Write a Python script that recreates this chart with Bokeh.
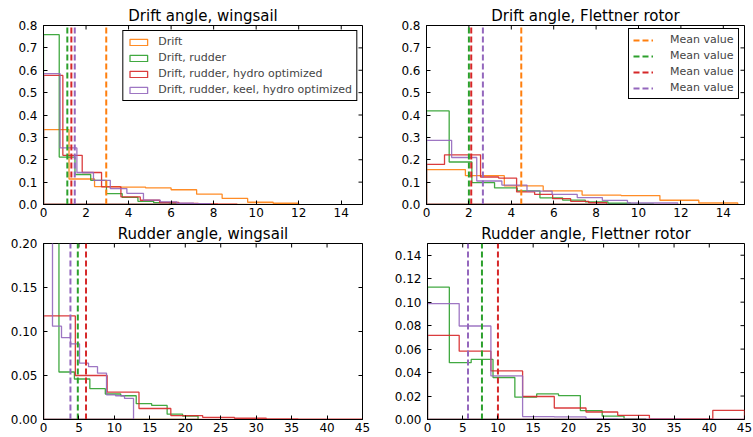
import math
from bokeh.plotting import figure
from bokeh.models import Legend, LegendItem, FixedTicker, Range1d
from bokeh.layouts import column, row
from bokeh.embed import file_html
from bokeh.resources import INLINE

ORANGE = "#ff7f0e"
GREEN = "#2ca02c"
RED = "#d62728"
PURPLE = "#9467bd"
FONT = "DejaVu Sans"

# ---------------- data ----------------
series_labels = ["Drift", "Drift, rudder", "Drift, rudder, hydro optimized",
                 "Drift, rudder, keel, hydro optimized"]
mean_label = "Mean value"

# Drift angle, wingsail
tl_orange_edges = [0, 1.2, 2.4, 3.6, 4.8, 6.0, 7.2, 8.4, 9.6, 10.8, 12.0]
tl_orange_dens = [0.335, 0.114, 0.080, 0.078, 0.074, 0.066, 0.046, 0.027, 0.010, 0.006]
tl_green_edges = [0, 0.74, 1.48, 2.22, 2.96, 3.70, 4.44, 5.18, 5.92, 6.66, 7.40]
tl_green_dens = [0.759, 0.212, 0.134, 0.108, 0.049, 0.032, 0.014, 0.008, 0.004, 0.002]
tl_red_edges = [0, 0.91, 1.82, 2.73, 3.64, 4.55, 5.46, 6.37, 7.28, 8.19, 9.10]
tl_red_dens = [0.577, 0.220, 0.143, 0.079, 0.034, 0.019, 0.009, 0.005, 0.003, 0.002]
tl_purple_edges = [0, 0.78, 1.57, 2.35, 3.14, 3.92, 4.70, 5.49, 6.27, 7.06, 7.84]
tl_purple_dens = [0.585, 0.253, 0.143, 0.108, 0.071, 0.050, 0.020, 0.012, 0.006, 0.004]
tl_means = [2.95, 1.12, 1.31, 1.47]

# Drift angle, Flettner rotor
tr_orange_edges = [0, 1.835, 3.67, 5.505, 7.34, 9.175, 11.01, 12.845, 14.68]
tr_orange_dens = [0.156, 0.129, 0.083, 0.061, 0.042, 0.040, 0.019, 0.007]
tr_green_edges = [0, 1.07, 2.14, 3.21, 4.28, 5.35, 6.42, 7.49, 8.56, 9.63, 10.70]
tr_green_dens = [0.418, 0.190, 0.098, 0.074, 0.061, 0.030, 0.020, 0.012, 0.006, 0.003]
tr_red_edges = [0, 0.85, 1.70, 2.55, 3.40, 4.25, 5.10, 5.95, 6.80, 7.65, 8.50]
tr_red_dens = [0.179, 0.222, 0.222, 0.123, 0.118, 0.056, 0.045, 0.026, 0.014, 0.008]
tr_purple_edges = [0, 1.185, 2.37, 3.555, 4.74, 5.925, 7.11, 8.295, 9.48, 10.665, 11.85]
tr_purple_dens = [0.287, 0.210, 0.105, 0.087, 0.060, 0.045, 0.031, 0.018, 0.007, 0.007]
tr_means = [4.47, 2.00, 2.11, 2.66]

# Rudder angle, wingsail
bl_green_edges = [0, 2.18, 4.36, 6.54, 8.72, 10.90, 13.08, 15.26, 17.44, 19.62, 21.80]
bl_green_dens = [0.224, 0.054, 0.046, 0.035, 0.029, 0.027, 0.018, 0.016, 0.006, 0.004]
bl_red_edges = [0, 4.49, 8.98, 13.47, 17.96, 22.45, 26.94, 31.43, 35.92, 40.41, 44.90]
bl_red_dens = [0.1177, 0.050, 0.031, 0.0125, 0.0045, 0.0025, 0.0015, 0.0008, 0.0003, 0.0003]
bl_purple_edges = [0, 1.27, 2.54, 3.81, 5.08, 6.35, 7.62, 8.89, 10.16, 11.43, 12.70]
bl_purple_dens = [0.249, 0.106, 0.093, 0.086, 0.064, 0.060, 0.0526, 0.028, 0.027, 0.024]
bl_means = [4.84, 6.00, 3.80]

# Rudder angle, Flettner rotor
br_green_edges = [0, 3.1, 6.2, 9.3, 12.4, 15.5, 18.6, 21.7, 24.8, 27.9, 31.0]
br_green_dens = [0.1128, 0.0484, 0.0512, 0.0358, 0.0190, 0.0218, 0.0204, 0.0075, 0.0028, 0.0005]
br_red_edges = [0, 4.5, 9.0, 13.5, 18.0, 22.5, 27.0, 31.5, 36.0, 40.5, 45.0]
br_red_dens = [0.0717, 0.0582, 0.0414, 0.0196, 0.0098, 0.0064, 0.0036, 0.0005, 0.0005, 0.0078]
br_purple_edges = [0, 4.5, 9.0, 13.5, 18.0, 22.5, 27.0, 31.5, 36.0, 40.5, 45.0]
br_purple_dens = [0.0988, 0.0797, 0.0371, 0.0025, 0.0022, 0.0006, 0.0004, 0.0002, 0.0001, 0.0001]
br_means = [7.73, 10.00, 5.75]

drift_xticks = [0, 2, 4, 6, 8, 10, 12, 14]
drift_xlabels = ["0", "2", "4", "6", "8", "10", "12", "14"]
drift_yticks = [0.0, 0.1, 0.2, 0.3, 0.4, 0.5, 0.6, 0.7, 0.8]
drift_ylabels = ["0.0", "0.1", "0.2", "0.3", "0.4", "0.5", "0.6", "0.7", "0.8"]
rudder_xticks = [0, 5, 10, 15, 20, 25, 30, 35, 40, 45]
rudder_xlabels = ["0", "5", "10", "15", "20", "25", "30", "35", "40", "45"]
bl_yticks = [0.0, 0.05, 0.10, 0.15, 0.20]
bl_ylabels = ["0.00", "0.05", "0.10", "0.15", "0.20"]
br_yticks = [0.0, 0.02, 0.04, 0.06, 0.08, 0.10, 0.12, 0.14]
br_ylabels = ["0.00", "0.02", "0.04", "0.06", "0.08", "0.10", "0.12", "0.14"]


def step_outline(edges, dens):
    xs = [edges[0]]
    ys = [0.0]
    for i, h in enumerate(dens):
        xs += [edges[i], edges[i + 1]]
        ys += [h, h]
    xs.append(edges[-1])
    ys.append(0.0)
    return xs, ys


def style_axis(ax, ticks, labels, standoff):
    ax.ticker = FixedTicker(ticks=ticks)
    ax.major_tick_in = 4
    ax.major_tick_out = 0
    ax.minor_tick_in = 0
    ax.minor_tick_out = 0
    ax.axis_line_color = "black"
    ax.major_tick_line_color = "black"
    ax.major_label_text_font = FONT
    ax.major_label_text_color = "black"
    ax.major_label_overrides = {t: l for t, l in zip(ticks, labels)}
    ax.major_label_text_font_size = "12px"
    ax.major_label_standoff = standoff


def make_fig(title, xmax, ymax, xt, xl, yt, yl, width, height, bl, br, bt, bb):
    p = figure(width=width, height=height, x_range=Range1d(0, xmax), y_range=Range1d(0, ymax),
               output_backend="svg", toolbar_location=None, title=title,
               min_border_left=bl, min_border_right=br, min_border_top=bt, min_border_bottom=bb)
    p.title.text_font = FONT
    p.title.text_font_size = "15px"
    p.title.text_font_style = "normal"
    p.title.text_color = "black"
    p.title.align = "center"
    p.title.standoff = 2
    p.xgrid.visible = False
    p.ygrid.visible = False
    p.outline_line_color = "black"
    p.outline_line_alpha = 1
    p.background_fill_color = "white"
    p.border_fill_color = "white"
    style_axis(p.xaxis[0], xt, xl, 3)
    style_axis(p.yaxis[0], yt, yl, 6)
    # inward tick marks on the right and top edges (half of each dash is clipped by the frame)
    p.scatter(x=[xmax] * len(yt), y=yt, marker="dash", size=8, line_color="black", line_width=1)
    p.scatter(x=xt, y=[ymax] * len(xt), marker="dash", angle=math.pi / 2, size=8,
              line_color="black", line_width=1)
    return p


def add_hists(p, hists, means, colors, ymax):
    hist_r = []
    for (edges, dens), c in zip(hists, colors):
        xs, ys = step_outline(edges, dens)
        hist_r.append(p.patch(xs, ys, fill_color=None, line_color=c, line_width=1.3, line_alpha=0.9))
    mean_r = []
    for m, c in zip(means, colors):
        mean_r.append(p.segment(x0=[m], y0=[0], x1=[m], y1=[ymax], line_color=c,
                                line_width=2, line_dash="6 3"))
    return hist_r, mean_r


def legend_style(**kw):
    base = dict(glyph_height=8, spacing=3, padding=4, label_height=12, margin=0,
                label_text_font=FONT, label_text_font_size="11px",
                border_line_color="black", border_line_width=1, border_line_alpha=1,
                background_fill_color="white", background_fill_alpha=1)
    base.update(kw)
    return base


TOP_H, BOT_H = 221, 216
LW, RW = 391, 362
FH = 179

# top-left
p1 = make_fig("Drift angle, wingsail", 15, 0.8, drift_xticks, drift_xlabels,
              drift_yticks, drift_ylabels, LW, TOP_H, 43, 29, 25, 17)
h1, _ = add_hists(p1, [(tl_orange_edges, tl_orange_dens), (tl_green_edges, tl_green_dens),
                       (tl_red_edges, tl_red_dens), (tl_purple_edges, tl_purple_dens)],
                  tl_means, [ORANGE, GREEN, RED, PURPLE], 0.8)
items = [LegendItem(label=lab, renderers=[r]) for lab, r in zip(series_labels, h1)]
p1.add_layout(Legend(items=items, location="top_right",
                     **legend_style(glyph_width=22, label_standoff=9, margin=5)))

# top-right
p2 = make_fig("Drift angle, Flettner rotor", 15, 0.8, drift_xticks, drift_xlabels,
              drift_yticks, drift_ylabels, RW, TOP_H, 35, 9, 25, 17)
_, m2 = add_hists(p2, [(tr_orange_edges, tr_orange_dens), (tr_green_edges, tr_green_dens),
                       (tr_red_edges, tr_red_dens), (tr_purple_edges, tr_purple_dens)],
                  tr_means, [ORANGE, GREEN, RED, PURPLE], 0.8)
items = [LegendItem(label=mean_label, renderers=[r]) for r in m2]
p2.add_layout(Legend(items=items, location=(202, FH - 6 - 68),
                     **legend_style(glyph_width=20, label_standoff=17)))

# bottom-left
p3 = make_fig("Rudder angle, wingsail", 45, 0.2, rudder_xticks, rudder_xlabels,
              bl_yticks, bl_ylabels, LW, BOT_H, 43, 29, 19, 18)
add_hists(p3, [(bl_green_edges, bl_green_dens), (bl_red_edges, bl_red_dens),
               (bl_purple_edges, bl_purple_dens)],
          bl_means, [GREEN, RED, PURPLE], 0.2)

# bottom-right
p4 = make_fig("Rudder angle, Flettner rotor", 45, 0.15, rudder_xticks, rudder_xlabels,
              br_yticks, br_ylabels, RW, BOT_H, 35, 9, 19, 18)
add_hists(p4, [(br_green_edges, br_green_dens), (br_red_edges, br_red_dens),
               (br_purple_edges, br_purple_dens)],
          br_means, [GREEN, RED, PURPLE], 0.15)

layout = column(row(p1, p2), row(p3, p4))
open("out.html", "w").write(file_html(layout, INLINE))
